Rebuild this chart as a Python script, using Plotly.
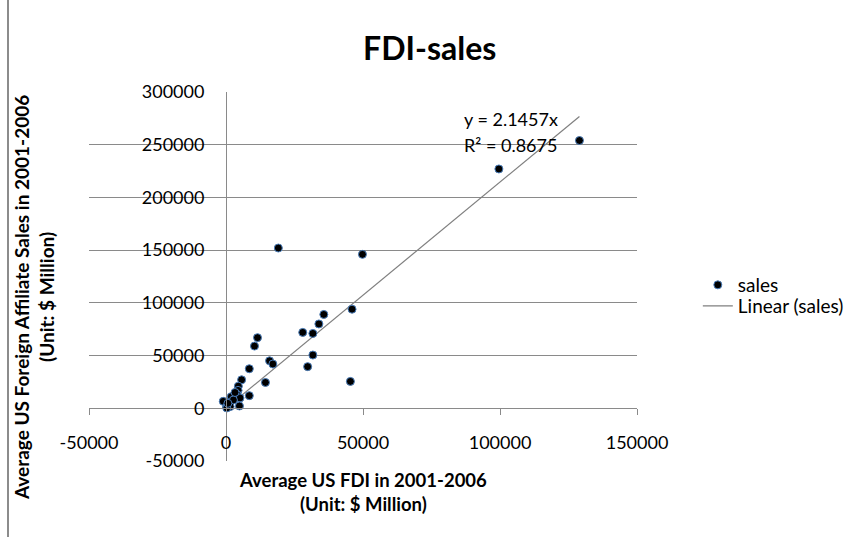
import plotly.graph_objects as go

# Average US FDI 2001-2006 ($ million) and foreign affiliate sales ($ million)
fdi = [129000, 99600, 19100, 49800, 46000, 35700, 33900, 28000, 31700, 11500,
       10400, 31700, 15900, 17100, 8500, 29800, 5700, 14400, 45400, 4500,
       4400, 8500, 4100, 1900, 5100, -1000, 1200, 2700, 200, 4900,
       1500, 300, 700, 3300]
sales = [254000, 227000, 152000, 146000, 94000, 89000, 80000, 72000, 71000, 67000,
         59000, 50500, 45000, 42000, 37500, 39500, 27000, 24500, 25500, 21000,
         17000, 12000, 13000, 11000, 9800, 6600, 5400, 7900, 1200, 2200,
         1600, 300, 4700, 15000]

slope = 2.1457
r2 = 0.8675
x_ticks = [-50000, 0, 50000, 100000, 150000]
y_ticks = [-50000, 0, 50000, 100000, 150000, 200000, 250000, 300000]

FONT = "Lato"
GRID = "#8a8a8a"

x_min, x_max = min(fdi), max(fdi)
trend_x = [x_min, x_max]
trend_y = [slope * v for v in trend_x]

fig = go.Figure()
fig.add_trace(go.Scatter(
    x=trend_x, y=trend_y, mode="lines", name="Linear (sales)", legend="legend2",
    line=dict(color="#7f7f7f", width=1.2),
))
fig.add_trace(go.Scatter(
    x=fdi, y=sales, mode="markers", name="sales", legend="legend",
    marker=dict(size=8, color="#000000", line=dict(color="#4a7ebb", width=1)),
))

leg_common = dict(xanchor="left", yanchor="middle", font=dict(family=FONT, size=19),
                  bgcolor="rgba(0,0,0,0)", itemwidth=30)

fig.update_layout(
    width=868, height=537,
    margin=dict(l=89, r=231, t=92, b=76),
    paper_bgcolor="white", plot_bgcolor="white",
    font=dict(family=FONT, size=18, color="#000000"),
    title=dict(text="<b>FDI-sales</b>", x=0.495, xanchor="center", y=0.91, yanchor="middle",
               font=dict(family=FONT, size=32, color="#000000")),
    showlegend=True,
    legend=dict(x=1.111, y=(461 - 285) / 369, **leg_common),
    legend2=dict(x=1.111, y=(461 - 306) / 369, **leg_common),
    xaxis=dict(
        range=[-50000, 150000], tickvals=x_ticks, ticktext=[str(v) for v in x_ticks],
        showgrid=False, zeroline=False,
        anchor="free", position=50000 / 350000,
        showline=True, linecolor=GRID, linewidth=1,
        ticks="outside", ticklen=6, tickcolor=GRID,
        ticklabelstandoff=12,
        automargin=False, fixedrange=True,
    ),
    yaxis=dict(
        range=[-50000, 300000], tickvals=y_ticks, ticktext=[str(v) for v in y_ticks],
        showgrid=True, gridcolor=GRID, gridwidth=1, zeroline=False,
        anchor="free", position=0.25,
        showline=True, linecolor=GRID, linewidth=1,
        ticks="", ticklabelstandoff=18,
        automargin=False, fixedrange=True,
    ),
    annotations=[
        dict(x=86300, y=274000, xref="x", yref="y", xanchor="left", yanchor="middle",
             text="y = 2.1457x", showarrow=False, font=dict(family=FONT, size=18)),
        dict(x=86300, y=250000, xref="x", yref="y", xanchor="left", yanchor="middle",
             text="R² = 0.8675", showarrow=False, font=dict(family=FONT, size=18)),
        dict(x=0.5, y=-0.015, xref="paper", yref="paper", xanchor="center", yanchor="top",
             text="<b>Average US FDI in 2001-2006</b><br><b>(Unit: $ Million)</b>",
             showarrow=False, font=dict(family=FONT, size=18.5)),
        dict(x=-0.1, y=0.442, xref="paper", yref="paper", xanchor="center", yanchor="middle",
             text="<b>Average US Foreign Affiliate Sales in 2001-2006</b><br><b>(Unit: $ Million)</b>",
             textangle=-90, showarrow=False, font=dict(family=FONT, size=19)),
    ],
    shapes=[
        dict(type="line", xref="paper", yref="paper", x0=-81 / 548, x1=-81 / 548,
             y0=-76 / 369, y1=1 + 92 / 369, line=dict(color="#8c8c8c", width=2)),
    ],
)

fig.write_html("out.html", config={"displayModeBar": False},
               post_script="document.body.style.margin='0';")
